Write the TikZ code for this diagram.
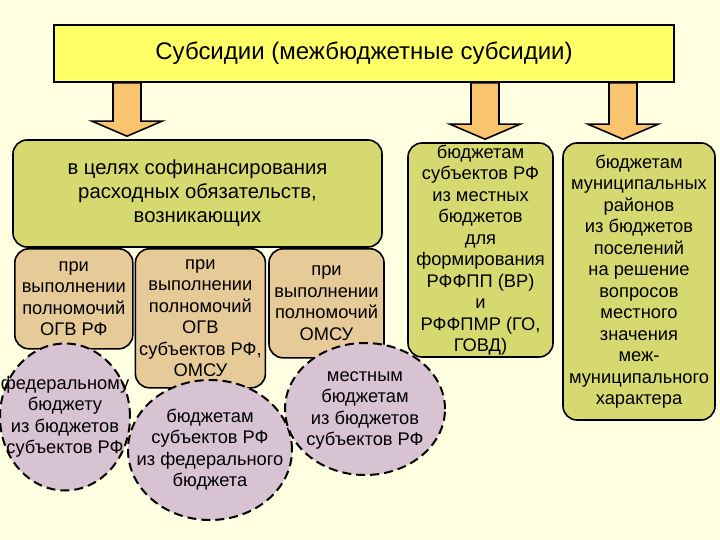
\documentclass[tikz,border=0pt]{standalone}
\usepackage{fontspec}
\setmainfont{Liberation Sans}
\usetikzlibrary{shapes.geometric, positioning, calc}
\definecolor{fonKrem}{HTML}{FFFFE2}
\definecolor{zheltyj}{HTML}{FFFF66}
\definecolor{oranzh}{HTML}{F8C46E}
\definecolor{olivka}{HTML}{D6D870}
\definecolor{bezh}{HTML}{E6CA98}
\definecolor{sirenev}{HTML}{D8C3D3}
% text of a dashed ellipse may stick out of it
\newcommand{\vkruge}[1]{\makebox[0pt]{\begin{tabular}{@{}c@{}}#1\end{tabular}}}

\begin{document}
\begin{tikzpicture}[x=1pt, y=-1pt, font=\fontsize{18.3}{21.5}\selectfont,
        ttl/.style={draw, line width=1.6pt, fill=zheltyj,
            minimum width=620pt, minimum height=57pt},
        zel/.style={draw, line width=1.6pt, fill=olivka, rounded corners=14pt,
            align=center, inner sep=1pt},
        bei/.style={draw, line width=1.6pt, fill=bezh, rounded corners=14pt,
            align=center, inner sep=1pt, anchor=north west},
        krug/.style={ellipse, draw, line width=2pt, dash pattern=on 9pt off 5pt,
            fill=sirenev, inner sep=0pt},
        str/.style={draw, line width=1.6pt, fill=oranzh, line join=miter}]
    \fill[fonKrem] (0,0) rectangle (720,540);
    \useasboundingbox (0,0) rectangle (720,540);

    \node[zel, minimum width=369pt, minimum height=107pt, font=\fontsize{20.3}{24}\selectfont]
        (goal) at (197.5,193.5) {в целях софинансирования\\расходных обязательств,\\возникающих};
    \node[bei, minimum width=118pt, minimum height=100pt] (b1) at (14,248)
        {при\\выполнении\\полномочий\\ОГВ РФ};
    \node[bei, minimum width=130pt, minimum height=139pt, right=1pt of b1.north east, anchor=north west] (b2)
        {при\\выполнении\\полномочий\\ОГВ\\субъектов РФ,\\ОМСУ};
    \node[bei, minimum width=115pt, minimum height=109pt, right=2pt of b2.north east, anchor=north west] (b3)
        {при\\выполнении\\полномочий\\ОМСУ};

    \node[krug, minimum width=130pt, minimum height=147pt] (k1) at (65,417)
        {\vkruge{федеральному\\бюджету\\из бюджетов\\субъектов РФ}};
    \node[krug, minimum width=164pt, minimum height=140pt] (k2) at (210,450)
        {\vkruge{бюджетам\\субъектов РФ\\из федерального\\бюджета}};
    \node[krug, minimum width=160pt, minimum height=132pt] (k3) at (365,409)
        {\vkruge{местным\\бюджетам\\из бюджетов\\субъектов РФ}};

    \node[zel, minimum width=145pt, minimum height=214pt] (mid) at (480.5,250)
        {бюджетам\\субъектов РФ\\из местных\\бюджетов\\для\\формирования\\РФФПП (ВР)\\и\\РФФПМР (ГО,\\ГОВД)};
    \node[zel, minimum width=152pt, minimum height=277pt] (mun) at (639,281.5)
        {бюджетам\\муниципальных\\районов\\из бюджетов\\поселений\\на решение\\вопросов\\местного\\значения\\меж-\\муниципального\\характера};

    \node[ttl, font=\fontsize{24}{28}\selectfont] (ttl) at (364,53.5) {Субсидии (межбюджетные субсидии)};

    % fat arrows from the title down
    \foreach \ax/\tg in {127/goal, 485/mid, 623/mun}
        \draw[str] let \p1=(\ax,0 |- ttl.south), \p2=(\ax,0 |- \tg.north) in
            (\x1-14pt,\y1) -- (\x1+14pt,\y1) -- (\x1+14pt,\y2+18pt) -- (\x1+35pt,\y2+18pt)
            -- (\x1,\y2+3pt) -- (\x1-35pt,\y2+18pt) -- (\x1-14pt,\y2+18pt) -- cycle;
\end{tikzpicture}
\end{document}
